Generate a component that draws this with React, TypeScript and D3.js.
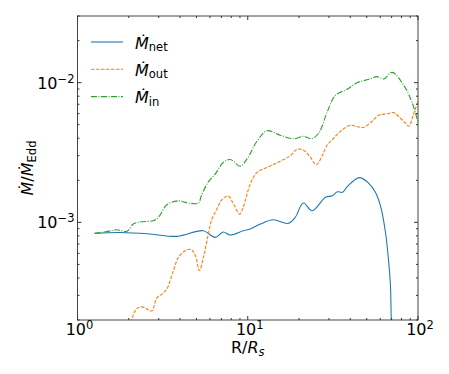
import React from "react";
import * as d3 from "d3";

const netR = [1.27, 1.78, 2.67, 3.85, 5.47, 6.44, 7.18, 7.89, 9.41, 10.35, 11.85, 14.1, 17.3, 19.0, 21.2, 23.9, 28.6, 31.4, 33.6, 36.0, 38.5, 45.3, 51.2, 56.2, 60.2, 64.4, 67.0, 68.9, 69.9];
const netM = [8.34e-4, 8.45e-4, 8.25e-4, 7.94e-4, 8.71e-4, 7.81e-4, 8.53e-4, 8.11e-4, 8.71e-4, 8.96e-4, 9.72e-4, 1.044e-3, 9.84e-4, 1.086e-3, 1.374e-3, 1.21e-3, 1.51e-3, 1.55e-3, 1.655e-3, 1.64e-3, 1.81e-3, 2.09e-3, 1.91e-3, 1.645e-3, 1.31e-3, 8.49e-4, 5.47e-4, 3.52e-4, 5e-5];

const outR = [2.064, 2.179, 2.3, 2.462, 2.634, 2.743, 2.924, 3.141, 3.348, 3.661, 3.916, 4.29, 4.653, 4.912, 5.205, 5.495, 5.754, 6.158, 6.589, 7.05, 7.711, 8.25, 8.95, 9.45, 10.34, 11.33, 12.97, 15.53, 17.78, 19.48, 21.29, 23.32, 25.29, 27.33, 29.24, 31.97, 35.0, 40.09, 44.07, 48.0, 53.78, 58.8, 65.9, 71.8, 78.9, 84.45, 88.3, 94.1, 100];
const outM = [1.909e-4, 2.325e-4, 2.471e-4, 2.462e-4, 2.344e-4, 2.325e-4, 2.879e-4, 3.075e-4, 3.338e-4, 4.511e-4, 5.623e-4, 6.267e-4, 6.392e-4, 5.84e-4, 4.511e-4, 5.623e-4, 7.35e-4, 1.056e-3, 1.245e-3, 1.455e-3, 1.541e-3, 1.351e-3, 1.146e-3, 1.307e-3, 1.877e-3, 2.276e-3, 2.471e-3, 2.741e-3, 2.99e-3, 3.338e-3, 3.284e-3, 2.926e-3, 2.587e-3, 2.99e-3, 3.565e-3, 4.0e-3, 4.487e-3, 4.955e-3, 4.834e-3, 4.794e-3, 5.292e-3, 5.84e-3, 5.986e-3, 6.105e-3, 5.559e-3, 5.12e-3, 4.874e-3, 5.937e-3, 7.35e-3];

const inR = [1.256, 1.511, 1.701, 1.947, 2.129, 2.386, 2.792, 2.987, 3.348, 3.916, 4.29, 5.135, 5.327, 5.855, 6.437, 7.176, 7.889, 9.035, 9.892, 11.33, 12.97, 15.53, 18.6, 21.29, 23.63, 26.1, 29.24, 32.72, 38.32, 43.89, 51.36, 57.54, 62.93, 70.51, 82.5, 92.4, 100];
const inM = [8.34e-4, 8.62e-4, 8.85e-4, 8.62e-4, 9.72e-4, 1.01e-3, 1.027e-3, 1.086e-3, 1.336e-3, 1.427e-3, 1.39e-3, 1.374e-3, 1.541e-3, 1.94e-3, 2.213e-3, 2.683e-3, 2.818e-3, 2.524e-3, 2.832e-3, 3.807e-3, 4.524e-3, 4.203e-3, 3.967e-3, 4.134e-3, 3.967e-3, 4.344e-3, 6.136e-3, 8.11e-3, 8.96e-3, 1.0e-2, 1.056e-2, 1.104e-2, 1.064e-2, 1.185e-2, 9.57e-3, 7.2e-3, 5.2e-3];

const xDomain = [1, 100];
const yDomain = [2e-4, 3e-2];
const xMajor = [1, 10, 100];
const xMajorExp = ["0", "1", "2"];
const yMajor = [1e-3, 1e-2];
const yMajorExp = ["\u22123", "\u22122"];

const seriesNames = ["net", "out", "in"];

export default function App() {
  const W = 449, H = 374;
  const L = 77.5, R = 418, T = 16, B = 320;
  const x = d3.scaleLog().domain(xDomain).range([L, R]);
  const y = d3.scaleLog().domain(yDomain).range([B, T]);

  const series = [
    { name: seriesNames[0], r: netR, m: netM, color: "#1f77b4", dash: undefined },
    { name: seriesNames[1], r: outR, m: outM, color: "#ff7f0e", dash: "3.5,1.5" },
    { name: seriesNames[2], r: inR, m: inM, color: "#2ca02c", dash: "6,1.5,1,1.5" },
  ];

  const line = d3
    .line<[number, number]>()
    .x((d) => x(d[0]))
    .y((d) => y(d[1]))
    .curve(d3.curveCatmullRom.alpha(0.5));

  const xMinor: number[] = [];
  for (const dec of [1, 10]) for (let k = 2; k <= 9; k++) xMinor.push(dec * k);
  const yMinor: number[] = [];
  for (const dec of [1e-4, 1e-3, 1e-2])
    for (let k = 2; k <= 9; k++) {
      const v = dec * k;
      if (v >= yDomain[0] * 0.999 && v <= yDomain[1] * 1.001) yMinor.push(v);
    }

  const font = "DejaVu Sans, sans-serif";
  const tickC = "#333";

  return (
    <svg width={W} height={H} style={{ position: "absolute", left: 0, top: 0 }} fontFamily={font}>
      <rect width={W} height={H} fill="white" />
      <defs>
        <clipPath id="plotclip">
          <rect x={L} y={T} width={R - L} height={B - T} />
        </clipPath>
      </defs>
      <g clipPath="url(#plotclip)">
        {series.map((s) => (
          <path
            key={s.name}
            d={line(s.r.map((rv, i) => [rv, s.m[i]] as [number, number])) || ""}
            fill="none"
            stroke={s.color}
            strokeWidth={1.1}
            strokeDasharray={s.dash}
          />
        ))}
      </g>
      <rect x={L} y={T} width={R - L} height={B - T} fill="none" stroke="#444" strokeWidth={1} />
      {xMajor.map((v) => (
        <g key={"xM" + v}>
          <line x1={x(v)} x2={x(v)} y1={B} y2={B - 4} stroke={tickC} />
          <line x1={x(v)} x2={x(v)} y1={T} y2={T + 4} stroke={tickC} />
        </g>
      ))}
      {xMinor.map((v) => (
        <g key={"xm" + v}>
          <line x1={x(v)} x2={x(v)} y1={B} y2={B - 2} stroke={tickC} />
          <line x1={x(v)} x2={x(v)} y1={T} y2={T + 2} stroke={tickC} />
        </g>
      ))}
      {yMajor.map((v) => (
        <g key={"yM" + v}>
          <line x1={L} x2={L + 4} y1={y(v)} y2={y(v)} stroke={tickC} />
          <line x1={R} x2={R - 4} y1={y(v)} y2={y(v)} stroke={tickC} />
        </g>
      ))}
      {yMinor.map((v) => (
        <g key={"ym" + v}>
          <line x1={L} x2={L + 2} y1={y(v)} y2={y(v)} stroke={tickC} />
          <line x1={R} x2={R - 2} y1={y(v)} y2={y(v)} stroke={tickC} />
        </g>
      ))}
      {xMajor.map((v, i) => (
        <text key={"xl" + v} x={x(v) + 2} y={B + 15} textAnchor="middle" fontSize={16} fill="#000">
          10<tspan dy={-6} fontSize={11.5}>{xMajorExp[i]}</tspan>
        </text>
      ))}
      {yMajor.map((v, i) => (
        <text key={"yl" + v} x={L - 3} y={y(v) + 6} textAnchor="end" fontSize={16} fill="#000">
          10<tspan dy={-6} fontSize={11.5}>{yMajorExp[i]}</tspan>
        </text>
      ))}
      <text x={(L + R) / 2} y={353} textAnchor="middle" fontSize={16} fill="#000">
        R/<tspan fontStyle="italic">R</tspan>
        <tspan fontStyle="italic" fontSize={11.5} dy={3}>s</tspan>
      </text>
      <text transform="translate(33,168) rotate(-90)" textAnchor="middle" fontSize={16} fill="#000">
        <tspan fontStyle="italic">{"\u1E40"}</tspan>/<tspan fontStyle="italic">{"\u1E40"}</tspan>
        <tspan fontSize={11.5} dy={3}>Edd</tspan>
      </text>
      {series.map((s, i) => {
        const cy = 42 + i * 27.3;
        return (
          <g key={"lg" + s.name}>
            <line x1={91} x2={123} y1={cy} y2={cy} stroke={s.color} strokeWidth={1.1} strokeDasharray={s.dash} />
            <text x={135} y={cy + 6.5} fontSize={16} fill="#000">
              <tspan fontStyle="italic">{"\u1E40"}</tspan>
              <tspan fontSize={11.5} dy={2.5}>{s.name}</tspan>
            </text>
          </g>
        );
      })}
    </svg>
  );
}
